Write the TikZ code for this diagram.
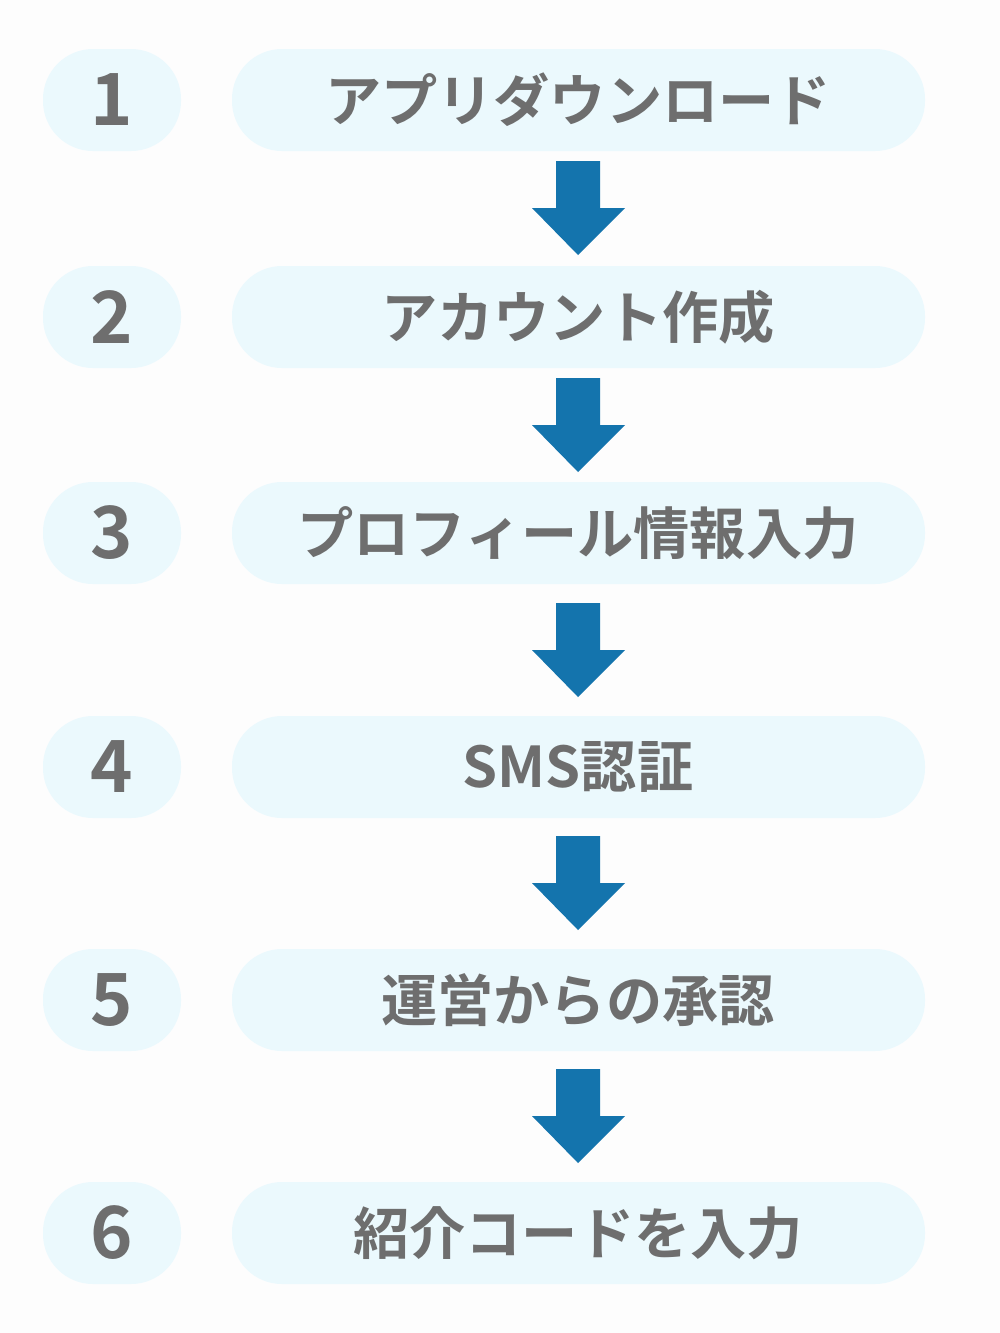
\documentclass[tikz,border=0pt]{standalone}
\usepackage{fontspec}
\newfontfamily\cjk{Noto Sans CJK JP}[BoldFont={Noto Sans CJK JP Bold}]
\definecolor{pillfill}{HTML}{EBF9FD}
\definecolor{labelgray}{HTML}{6E6E6E}
\definecolor{arrowblue}{HTML}{1474AD}
\definecolor{bggray}{HTML}{FDFDFD}
\begin{document}
\begin{tikzpicture}%
	[x=0.02cm, y=-0.02cm,
	numpill/.style={fill=pillfill, rounded corners=51\pgflinewidth, minimum width=2.76cm, minimum height=2.06cm, inner sep=0pt, font=\cjk\bfseries\fontsize{41}{41}\selectfont, text=labelgray},
	steppill/.style={fill=pillfill, minimum width=13.86cm, minimum height=2.06cm, inner sep=0pt, font=\cjk\bfseries\fontsize{32}{32}\selectfont, text=labelgray},
	flowarrow/.style={fill=arrowblue}]
%
%% Background
\fill[bggray] (0,0) rectangle (1000,1333);
\useasboundingbox (0,0) rectangle (1000,1333);
%%
%% Steps
\foreach \row/\ypos/\label in {1/100/アプリダウンロード, 2/317/アカウント作成, 3/533/プロフィール情報入力, 4/767/SMS認証, 5/1000/運営からの承認, 6/1233/紹介コードを入力}{
	\fill[pillfill, rounded corners=1cm] (43,\ypos-51) rectangle (181,\ypos+51);
	\node[text=labelgray, font=\cjk\bfseries\fontsize{41}{41}\selectfont] (num\row) at (112,\ypos) {\row};
	\fill[pillfill, rounded corners=1cm] (232,\ypos-51) rectangle (925,\ypos+51);
	\node[text=labelgray, font=\cjk\bfseries\fontsize{32}{32}\selectfont] (step\row) at (578,\ypos) {\label};
}
%%
%% Arrows between steps
\foreach \top in {161, 378, 603, 836, 1069}{
	\fill[flowarrow] (556,\top) -- (600,\top) -- (600,\top+47) -- (625,\top+47) -- (578,\top+94) -- (532,\top+47) -- (556,\top+47) -- cycle;
}
\end{tikzpicture}
\end{document}
